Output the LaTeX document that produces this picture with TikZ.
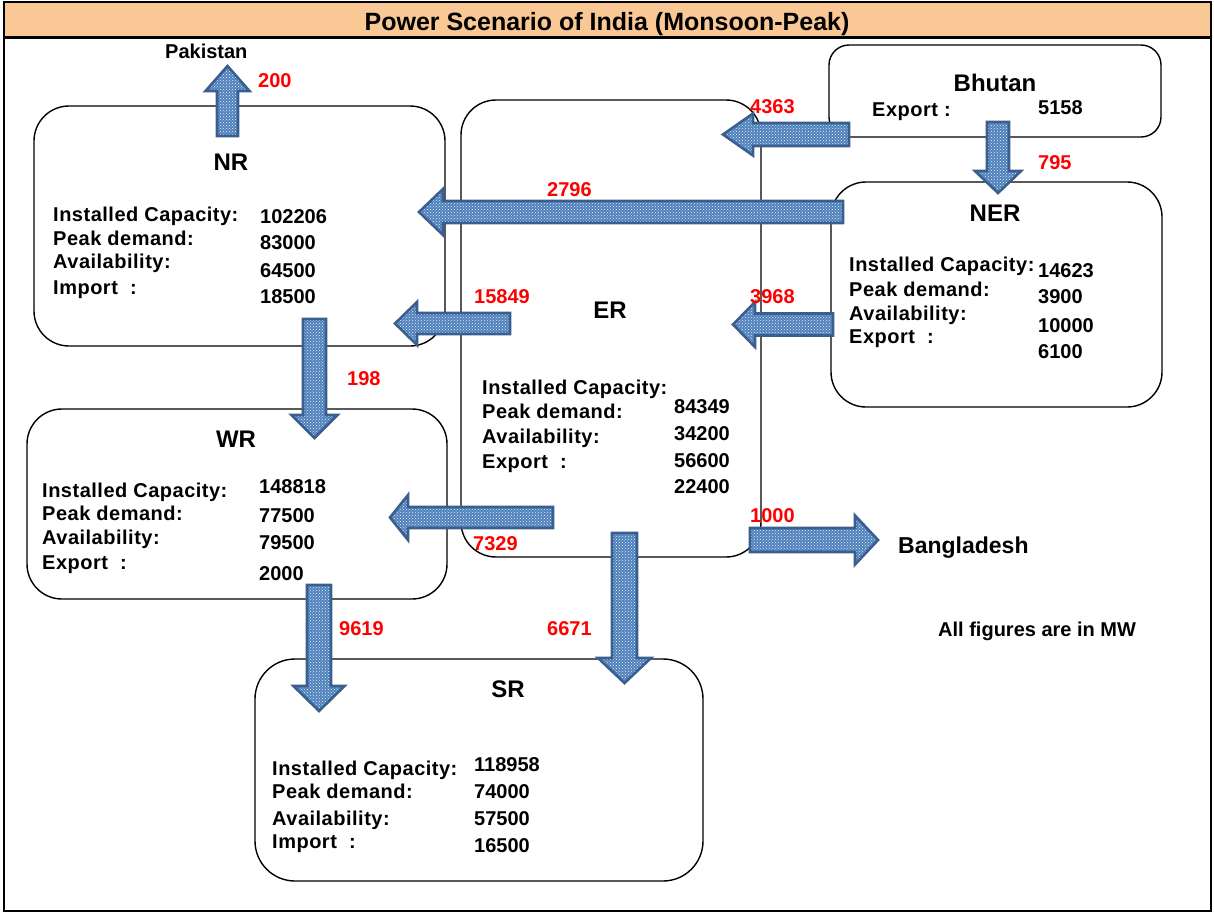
\documentclass[tikz,border=0pt]{standalone}
\usepackage{fontspec}
\setmainfont{Liberation Sans}
\newfontfamily\spacedfont[LetterSpace=2.5]{Liberation Sans}
\usetikzlibrary{patterns}

\definecolor{bandpeach}{HTML}{FAC894}
\definecolor{flowfill}{HTML}{4F81BD}
\definecolor{flowedge}{HTML}{3A5F8E}
\definecolor{flowred}{HTML}{FF0000}

\tikzset{
  region/.style={draw=black, line width=1.4pt, inner sep=0pt, rounded corners=35pt},
  txt/.style={inner sep=0pt, anchor=base west, font=\fontsize{20}{24}\selectfont\bfseries},
  lab/.style={txt, font=\fontsize{20}{24}\spacedfont\bfseries},
  flownum/.style={txt, text=flowred},
  head/.style={inner sep=0pt, anchor=base, font=\fontsize{24}{28}\selectfont\bfseries},
  flowbody/.style={preaction={fill=flowfill}, pattern=crosshatch dots,
    pattern color=white!88!flowfill, postaction={draw=flowedge, line width=2.6pt}},
  % block arrow: length / shaft half width / head half width / head length
  pics/flow/.style args={#1/#2/#3/#4}{code={
    \path[flowbody] (0,-#2) -- ({#1-#4},-#2) -- ({#1-#4},-#3) -- (#1,0)
      -- ({#1-#4},#3) -- ({#1-#4},#2) -- (0,#2) -- cycle;
  }},
}

\begin{document}
\begin{tikzpicture}[x=1pt, y=-1pt]
\useasboundingbox (0,0) rectangle (1214,913);

% frame and title band
\fill[bandpeach] (4,3) rectangle (1211,37);
\draw[line width=2.5pt] (4,2) rectangle (1211,911);
\draw[line width=2.5pt] (4,37.5) -- (1211,37.5);
\node[inner sep=0pt, anchor=base, font=\fontsize{25}{30}\selectfont\bfseries] (title) at (607,30)
  {Power Scenario of India (Monsoon-Peak)};

% regions
\node[region, minimum width=411pt, minimum height=240pt] (nr) at (239.5,226) {};
\node[region, minimum width=300pt, minimum height=457pt] (er) at (611,328.5) {};
\node[region, rounded corners=20pt, minimum width=332pt, minimum height=92pt] (bt) at (995,91) {};
\node[region, minimum width=331pt, minimum height=225pt] (ner) at (996.5,294.5) {};
\node[region, minimum width=420pt, minimum height=190pt] (wr) at (237,504) {};
\node[region, rounded corners=40pt, minimum width=448pt, minimum height=222pt] (sr) at (479,770) {};

% power flows
\pic[rotate=90]  at (227.5,136) {flow=70/10.5/22/25};
\pic[rotate=180] at (849,134.5) {flow=126/11.5/21/30};
\pic[rotate=-90] at (998,122)   {flow=71/11/23/22};
\pic[rotate=180] at (843,212)   {flow=424/11/23/24};
\pic[rotate=180] at (510,323.5) {flow=115/10.5/21.5/22};
\pic[rotate=180] at (833,324.5) {flow=100/11/22.5/22};
\pic[rotate=-90] at (314.5,319) {flow=119/11.5/23/23};
\pic[rotate=180] at (553,517.5) {flow=163/10.5/22.5/18};
\pic[rotate=-90] at (624.5,533) {flow=150/12.5/26.5/25};
\pic[rotate=-90] at (319,585)   {flow=126/12/25.5/25};
\pic              at (750,540)   {flow=128/12/24.5/23};

% flow figures
\node[flownum] (f-pak) at (258,87)  {200};
\node[flownum] (f-bter) at (750,113) {4363};
\node[flownum] (f-btner) at (1038,169) {795};
\node[flownum] (f-nernr) at (547,196) {2796};
\node[flownum] (f-ernr) at (474,303) {15849};
\node[flownum] (f-ner) at (750,303) {3968};
\node[flownum] (f-nrwr) at (347,385) {198};
\node[flownum] (f-erwr) at (473,550) {7329};
\node[flownum] (f-bd) at (750,522) {1000};
\node[flownum] (f-wrsr) at (339,635) {9619};
\node[flownum] (f-ersr) at (547,635) {6671};

% neighbours
\node[txt] (pak) at (165,58) {Pakistan};
\node[txt, font=\fontsize{23}{27}\selectfont\bfseries] (bd) at (898,553) {Bangladesh};
\node[txt] (unit) at (938,636) {All figures are in MW};

% NR
\node[head] (nr-h) at (231,170) {NR};
\node[lab] (nr-l1) at (53,221) {Installed Capacity:};
\node[lab] (nr-l2) at (53,245) {Peak demand:};
\node[lab] (nr-l3) at (53,268) {Availability:};
\node[lab] (nr-l4) at (53,294) {Import\ \ :};
\node[txt] (nr-v1) at (260,223) {102206};
\node[txt] (nr-v2) at (260,249) {83000};
\node[txt] (nr-v3) at (260,277) {64500};
\node[txt] (nr-v4) at (260,303) {18500};

% ER
\node[head] (er-h) at (610,318) {ER};
\node[lab] (er-l1) at (482,394) {Installed Capacity:};
\node[lab] (er-l2) at (482,418) {Peak demand:};
\node[lab] (er-l3) at (482,443) {Availability:};
\node[lab] (er-l4) at (482,468) {Export\ \ :};
\node[txt] (er-v1) at (674,413) {84349};
\node[txt] (er-v2) at (674,440) {34200};
\node[txt] (er-v3) at (674,467) {56600};
\node[txt] (er-v4) at (674,493) {22400};

% Bhutan
\node[head] (bt-h) at (995,91) {Bhutan};
\node[lab] (bt-l1) at (872,116) {Export :};
\node[txt] (bt-v1) at (1038,114) {5158};

% NER
\node[head] (ner-h) at (995,221) {NER};
\node[lab] (ner-l1) at (849,271) {Installed Capacity:};
\node[lab] (ner-l2) at (849,296) {Peak demand:};
\node[lab] (ner-l3) at (849,320) {Availability:};
\node[lab] (ner-l4) at (849,343) {Export\ \ :};
\node[txt] (ner-v1) at (1038,277) {14623};
\node[txt] (ner-v2) at (1038,303) {3900};
\node[txt] (ner-v3) at (1038,332) {10000};
\node[txt] (ner-v4) at (1038,358) {6100};

% WR
\node[head] (wr-h) at (236,447) {WR};
\node[lab] (wr-l1) at (42,497) {Installed Capacity:};
\node[lab] (wr-l2) at (42,520) {Peak demand:};
\node[lab] (wr-l3) at (42,544) {Availability:};
\node[lab] (wr-l4) at (42,569) {Export\ \ :};
\node[txt] (wr-v1) at (259,493) {148818};
\node[txt] (wr-v2) at (259,522) {77500};
\node[txt] (wr-v3) at (259,549) {79500};
\node[txt] (wr-v4) at (259,580) {2000};

% SR
\node[head] (sr-h) at (508,697) {SR};
\node[lab] (sr-l1) at (272,775) {Installed Capacity:};
\node[lab] (sr-l2) at (272,798) {Peak demand:};
\node[lab] (sr-l3) at (272,825) {Availability:};
\node[lab] (sr-l4) at (272,848) {Import\ \ :};
\node[txt] (sr-v1) at (474,771) {118958};
\node[txt] (sr-v2) at (474,798) {74000};
\node[txt] (sr-v3) at (474,825) {57500};
\node[txt] (sr-v4) at (474,852) {16500};
\end{tikzpicture}
\end{document}
